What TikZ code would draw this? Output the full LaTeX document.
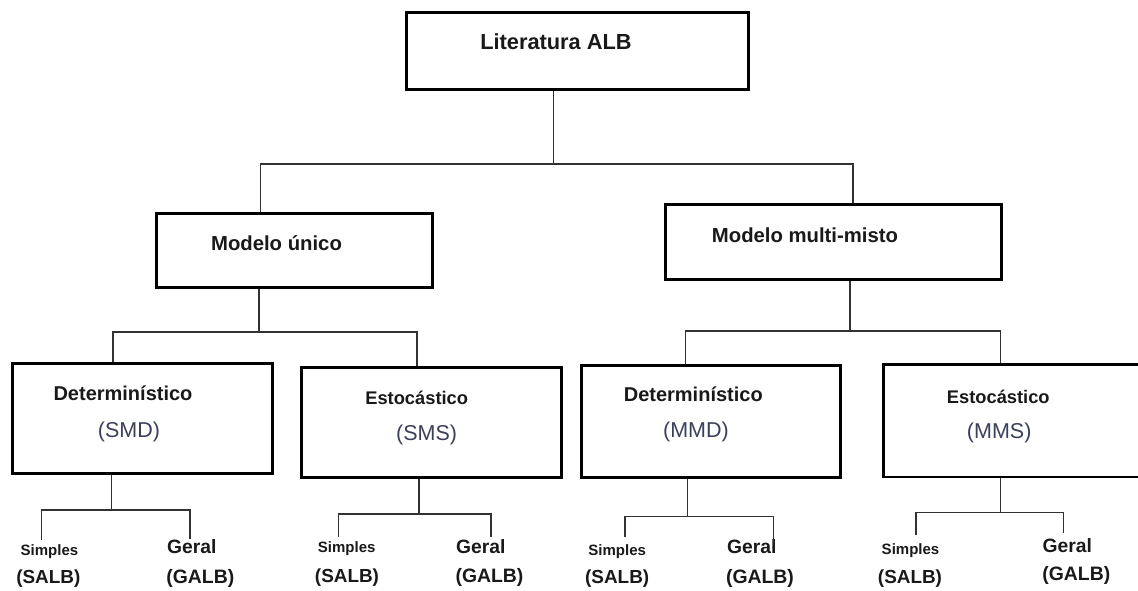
\documentclass[tikz,border=0pt]{standalone}
\usepackage{fontspec}
\setmainfont{Liberation Sans}
\definecolor{abbr}{RGB}{58,63,92}
\definecolor{linec}{RGB}{50,50,50}
\begin{document}
\begin{tikzpicture}[x=1pt,y=-1pt,
  box/.style={draw=black,line width=2.6pt,rectangle,inner sep=0pt,anchor=north west},
  conn/.style={draw=linec,line width=1.3pt},
  lab/.style={anchor=base,inner sep=0pt,font=\bfseries\fontsize{#1}{#1}\selectfont,text=black!90},
  abr/.style={anchor=base,inner sep=0pt,font=\fontsize{#1}{#1}\selectfont,text=abbr}]
\useasboundingbox (0,0) rectangle (1138,590);
\begin{scope}
\clip (0,0) rectangle (1138,590);
% boxes
\node[box,minimum width=342pt,minimum height=77pt] (lit) at (405,11) {};
\node[box,minimum width=276pt,minimum height=74pt] (mu) at (155,212) {};
\node[box,minimum width=336pt,minimum height=75pt] (mm) at (664,203) {};
\node[box,minimum width=260pt,minimum height=110pt] (smd) at (11,362) {};
\node[box,minimum width=260pt,minimum height=110pt] (sms) at (300,366) {};
\node[box,minimum width=259pt,minimum height=112pt] (mmd) at (580,364) {};
\node[box,minimum width=268pt,minimum height=112.5pt] (mms) at (882,363) {};
\end{scope}

% box texts
\node[lab=21.8] (tlit) at (556,49) {Literatura ALB};
\node[lab=20.3] (tmu) at (276.5,250) {Modelo único};
\node[lab=20.3] (tmm) at (805,242) {Modelo multi-misto};
\node[lab=20] (tsmd) at (123,400) {Determinístico};
\node[abr=21.5] (asmd) at (129,437) {(SMD)};
\node[lab=18.3] (tsms) at (416.7,404) {Estocástico};
\node[abr=21.5] (asms) at (426.7,440) {(SMS)};
\node[lab=20] (tmmd) at (693.3,401.5) {Determinístico};
\node[abr=21.5] (ammd) at (696,437) {(MMD)};
\node[lab=18.3] (tmms) at (998.3,403.3) {Estocástico};
\node[abr=21.5] (amms) at (999.2,438.3) {(MMS)};

% leaf texts
\node[lab=15] (s1) at (49.5,555) {Simples};
\node[lab=18.9] (s1b) at (48.3,583.3) {(SALB)};
\node[lab=19.3] (g1) at (191.7,553.3) {Geral};
\node[lab=19.4] (g1b) at (200.3,583.3) {(GALB)};
\node[lab=15] (s2) at (346.7,552.7) {Simples};
\node[lab=18.9] (s2b) at (347,582.7) {(SALB)};
\node[lab=19.3] (g2) at (480.8,553.3) {Geral};
\node[lab=19.4] (g2b) at (489.5,582.7) {(GALB)};
\node[lab=15] (s3) at (617.2,555) {Simples};
\node[lab=18.9] (s3b) at (617.2,583.3) {(SALB)};
\node[lab=19.3] (g3) at (751.7,553.3) {Geral};
\node[lab=19.4] (g3b) at (760,583) {(GALB)};
\node[lab=15] (s4) at (910.5,554.3) {Simples};
\node[lab=18.9] (s4b) at (910,583.3) {(SALB)};
\node[lab=19.3] (g4) at (1067.2,552.3) {Geral};
\node[lab=19.4] (g4b) at (1076.3,580) {(GALB)};

% junction coordinates
\coordinate (j0) at (553.5,164);
\coordinate (j0l) at (260.5,164);
\coordinate (j0r) at (853,164);
\coordinate (j1) at (259,332);
\coordinate (j1l) at (113,332);
\coordinate (j1r) at (417,332);
\coordinate (j2) at (850,331);
\coordinate (j2l) at (685.7,331);
\coordinate (j2r) at (1000.7,331);
\coordinate (k1) at (111.7,510);
\coordinate (k1l) at (41.7,510);
\coordinate (k1r) at (190,510);
\coordinate (e1l) at (41.7,540);
\coordinate (e1r) at (190,539);
\coordinate (k2) at (419,514);
\coordinate (k2l) at (338.3,514);
\coordinate (k2r) at (491,514);
\coordinate (e2l) at (338.3,537);
\coordinate (e2r) at (491,537);
\coordinate (k3) at (687.3,516.7);
\coordinate (k3l) at (625,516.7);
\coordinate (k3r) at (773.3,516.7);
\coordinate (e3l) at (625,537.3);
\coordinate (e3r) at (773.3,545);
\coordinate (k4) at (1000.7,512.3);
\coordinate (k4l) at (916,512.3);
\coordinate (k4r) at (1063.3,512.3);
\coordinate (e4l) at (916,535);
\coordinate (e4r) at (1063.3,533.3);

% connectors level 0
\draw[conn] (lit.south -| j0) -- (j0);
\draw[conn] (mu.north -| j0l) -- (j0l) -- (j0r) -- (mm.north -| j0r);
% level 1
\draw[conn] (mu.south -| j1) -- (j1);
\draw[conn] (smd.north -| j1l) -- (j1l) -- (j1r) -- (sms.north -| j1r);
\draw[conn] (mm.south -| j2) -- (j2);
\draw[conn] (mmd.north -| j2l) -- (j2l) -- (j2r) -- (mms.north -| j2r);
% level 2
\draw[conn] (smd.south -| k1) -- (k1);
\draw[conn] (e1l) -- (k1l) -- (k1r) -- (e1r);
\draw[conn] (sms.south -| k2) -- (k2);
\draw[conn] (e2l) -- (k2l) -- (k2r) -- (e2r);
\draw[conn] (mmd.south -| k3) -- (k3);
\draw[conn] (e3l) -- (k3l) -- (k3r) -- (e3r);
\draw[conn] (mms.south -| k4) -- (k4);
\draw[conn] (e4l) -- (k4l) -- (k4r) -- (e4r);
\end{tikzpicture}
\end{document}
